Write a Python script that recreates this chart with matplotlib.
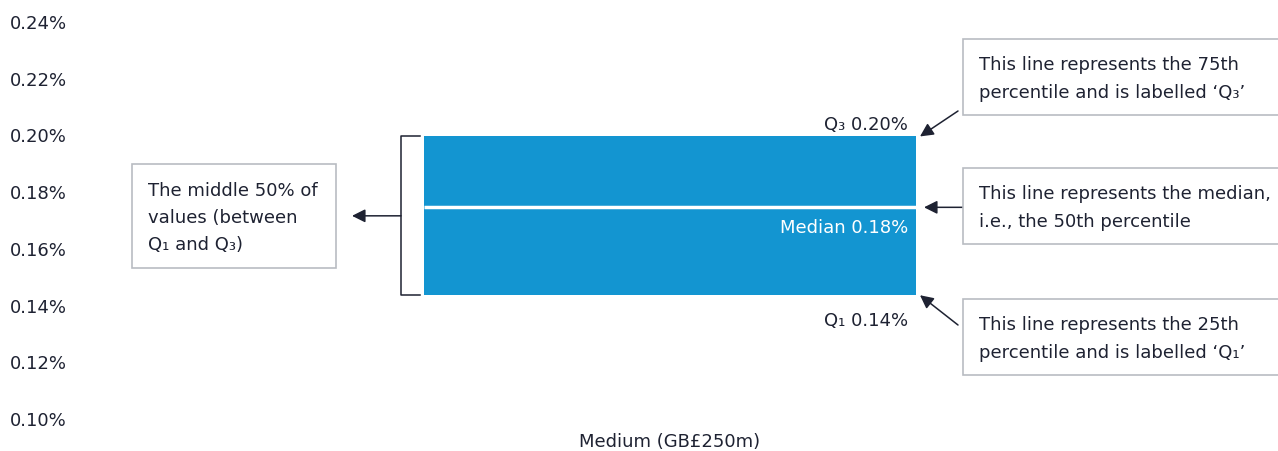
import matplotlib.pyplot as plt
from matplotlib.patches import Rectangle

# data
category = "Medium (GB£250m)"
q1 = 0.144
median = 0.175
q3 = 0.200
q1_label = "Q\u2081 0.14%"
median_label = "Median 0.18%"
q3_label = "Q\u2083 0.20%"
y_ticks = [0.10, 0.12, 0.14, 0.16, 0.18, 0.20, 0.22, 0.24]

BAR = "#1395d1"
INK = "#1e2232"
EDGE = "#b9bcc2"
FONT = "DejaVu Sans"
FS = 13

W, H = 1278, 452
fig = plt.figure(figsize=(W / 100, H / 100), dpi=100)
ax = fig.add_axes([75 / W, 1 - 421 / H, 1 - 75 / W, (421 - 24) / H])


def px(x, y):
    """pixel position (from top-left) -> figure fraction"""
    return x / W, 1 - y / H


def dx(x):
    """pixel x -> data x (bar centre at 670 px, bar 492 px wide)"""
    return (x - 670) / 492


# box body
ax.bar([0], [q3 - q1], bottom=[q1], width=1.0, color=BAR, edgecolor="none")
ax.plot([-0.5, 0.5], [median, median], color="white", lw=2.5, solid_capstyle="butt")

ax.set_xlim(dx(75), dx(1278))
ax.set_ylim(min(y_ticks), max(y_ticks))
ax.set_yticks(y_ticks)
ax.set_yticklabels([f"{v:.2f}%" for v in y_ticks], fontsize=FS, color=INK, family=FONT)
ax.set_xticks([0])
ax.set_xticklabels([category], fontsize=FS, color=INK, family=FONT)
ax.tick_params(length=0)
ax.tick_params(axis="y", pad=6)
ax.tick_params(axis="x", pad=9)
for s in ax.spines.values():
    s.set_visible(False)
for t in ax.get_yticklabels():
    t.set_y(t.get_position()[1])
    t.set_va("center")

# value labels
ax.text(dx(908), q3 + 0.0012, q3_label, ha="right", va="bottom", fontsize=FS, color=INK, family=FONT)
ax.text(dx(908), median - 0.0036, median_label, ha="right", va="top", fontsize=FS, color="white", family=FONT)
ax.text(dx(908), q1 - 0.0056, q1_label, ha="right", va="top", fontsize=FS, color=INK, family=FONT)

# explanation boxes
boxes = [
    (963, 40, 330, 76, "This line represents the 75th\npercentile and is labelled \u2018Q\u2083\u2019", 1.75),
    (963, 169, 330, 76, "This line represents the median,\ni.e., the 50th percentile", 1.75),
    (963, 300, 330, 76, "This line represents the 25th\npercentile and is labelled \u2018Q\u2081\u2019", 1.75),
    (132, 165, 204, 104, "The middle 50% of\nvalues (between\nQ\u2081 and Q\u2083)", 1.65),
]
for x0, y0, bw, bh, txt, ls in boxes:
    fx, fy = px(x0, y0 + bh)
    fig.patches.append(Rectangle((fx, fy), bw / W, bh / H, transform=fig.transFigure,
                                 facecolor="white", edgecolor=EDGE, lw=1.2, clip_on=False))
    tx, ty = px(x0 + 16, y0 + bh / 2 + 1)
    fig.text(tx, ty, txt, ha="left", va="center", fontsize=FS, color=INK,
             family=FONT, linespacing=ls)

arrow = dict(arrowstyle="-|>,head_length=0.8,head_width=0.4", color=INK, lw=1.1,
             shrinkA=0, shrinkB=0)
ax.annotate("", xy=(dx(920), q3), xytext=px(958, 112), textcoords="figure fraction",
            arrowprops=arrow)
ax.annotate("", xy=(dx(924), median), xytext=(dx(963), median), arrowprops=arrow)
ax.annotate("", xy=(dx(920), q1), xytext=px(958, 326), textcoords="figure fraction",
            arrowprops=arrow)

# bracket around the middle 50%
bx = dx(401)
tip = dx(420)
ax.plot([tip, bx, bx, tip], [q3, q3, q1, q1], color=INK, lw=1.1, clip_on=False)
mid = (q1 + q3) / 2
ax.annotate("", xy=(dx(352), mid), xytext=(bx, mid), arrowprops=arrow)

fig.savefig("out.png", dpi=100)
